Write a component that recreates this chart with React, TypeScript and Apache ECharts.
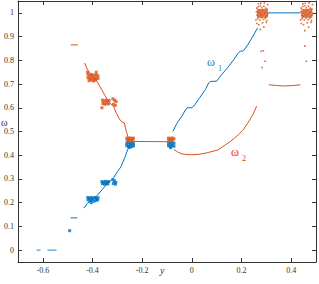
import React, { useEffect, useRef } from "react";
import * as echarts from "echarts";

const xTicks = [-0.6, -0.4, -0.2, 0, 0.2, 0.4];
const yTicks = [0, 0.1, 0.2, 0.3, 0.4, 0.5, 0.6, 0.7, 0.8, 0.9, 1];

// omega_1 (blue) continuous parts, null separates segments
const blueZero: (number[] | null)[] = [
  [-0.625, 0], [-0.609, 0], null,
  [-0.581, 0], [-0.545, 0],
];
const blueLine: (number[] | null)[] = [
  [-0.488, 0.136], [-0.461, 0.136], null,
  [-0.435, 0.177], [-0.42, 0.198], [-0.40, 0.213], [-0.38, 0.232], [-0.36, 0.256], [-0.345, 0.275],
  [-0.33, 0.29], [-0.315, 0.305], [-0.30, 0.33], [-0.285, 0.352], [-0.278, 0.37], [-0.268, 0.395],
  [-0.258, 0.425], [-0.25, 0.442], null,
  [-0.076, 0.501], [-0.06, 0.535], [-0.04, 0.565], [-0.025, 0.592], [-0.019, 0.6], [0.0, 0.6],
  [0.008, 0.607], [0.03, 0.64], [0.055, 0.677], [0.068, 0.705], [0.075, 0.711], [0.1, 0.712],
  [0.12, 0.74], [0.145, 0.77], [0.17, 0.805], [0.188, 0.832], [0.195, 0.838], [0.208, 0.84],
  [0.225, 0.865], [0.245, 0.9], [0.265, 0.937], null,
  [0.308, 1.0], [0.437, 1.0],
];
const blueClusters: number[][] = [
  [-0.492, 0.082],
  [-0.419, 0.222], [-0.412, 0.218], [-0.405, 0.222], [-0.398, 0.218], [-0.391, 0.222], [-0.384, 0.219], [-0.378, 0.221],
  [-0.418, 0.212], [-0.41, 0.208], [-0.402, 0.212], [-0.394, 0.206], [-0.386, 0.21], [-0.379, 0.212], [-0.405, 0.2],
  [-0.362, 0.289], [-0.355, 0.286], [-0.348, 0.29], [-0.341, 0.287], [-0.335, 0.289],
  [-0.36, 0.28], [-0.352, 0.278], [-0.345, 0.281], [-0.338, 0.279],
  [-0.318, 0.297], [-0.312, 0.292], [-0.306, 0.286], [-0.316, 0.281], [-0.308, 0.278],
  [-0.262, 0.45], [-0.255, 0.452], [-0.248, 0.449], [-0.241, 0.452], [-0.235, 0.449],
  [-0.262, 0.44], [-0.255, 0.437], [-0.248, 0.441], [-0.241, 0.437], [-0.235, 0.44], [-0.25, 0.432],
  [-0.094, 0.45], [-0.087, 0.452], [-0.08, 0.449], [-0.072, 0.451],
  [-0.094, 0.44], [-0.087, 0.437], [-0.08, 0.441], [-0.072, 0.438], [-0.085, 0.432],
];

// omega_2 (orange)
const orangeLine: (number[] | null)[] = [
  [-0.488, 0.865], [-0.459, 0.865], null,
  [-0.432, 0.789], [-0.42, 0.76], [-0.40, 0.733], [-0.38, 0.708], [-0.365, 0.68], [-0.35, 0.652],
  [-0.335, 0.625], [-0.315, 0.605], [-0.303, 0.575], [-0.292, 0.553], [-0.282, 0.54], [-0.272, 0.537],
  [-0.265, 0.505], [-0.255, 0.47], null,
  [-0.232, 0.458], [-0.095, 0.457], null,
  [-0.072, 0.424], [-0.055, 0.412], [-0.04, 0.406], [-0.025, 0.403], [0.0, 0.402], [0.03, 0.404],
  [0.06, 0.41], [0.09, 0.418], [0.105, 0.422], [0.13, 0.44], [0.155, 0.458], [0.172, 0.472],
  [0.188, 0.487], [0.205, 0.505], [0.225, 0.535], [0.245, 0.57], [0.261, 0.607], null,
  [0.31, 0.697], [0.34, 0.694], [0.37, 0.692], [0.4, 0.693], [0.437, 0.697],
];
const orangeClusters: number[][] = [
  [-0.418, 0.74], [-0.41, 0.736], [-0.402, 0.74], [-0.394, 0.735], [-0.386, 0.739], [-0.378, 0.735],
  [-0.418, 0.727], [-0.41, 0.723], [-0.402, 0.727], [-0.394, 0.722], [-0.386, 0.726], [-0.378, 0.723],
  [-0.414, 0.714], [-0.405, 0.717], [-0.396, 0.713], [-0.388, 0.716], [-0.42, 0.75], [-0.385, 0.75],
  [-0.36, 0.632], [-0.353, 0.628], [-0.346, 0.632], [-0.339, 0.628], [-0.333, 0.631],
  [-0.358, 0.618], [-0.35, 0.615], [-0.343, 0.619], [-0.336, 0.616], [-0.362, 0.6],
  [-0.318, 0.638], [-0.311, 0.632], [-0.305, 0.626], [-0.316, 0.615], [-0.308, 0.61],
  [-0.262, 0.472], [-0.255, 0.469], [-0.248, 0.473], [-0.241, 0.469], [-0.235, 0.472],
  [-0.26, 0.462], [-0.252, 0.461], [-0.244, 0.462], [-0.237, 0.46],
  [-0.094, 0.472], [-0.087, 0.469], [-0.08, 0.473], [-0.072, 0.47],
  [-0.093, 0.462], [-0.085, 0.461], [-0.077, 0.462],
];
// dense cores of the two noisy clusters near omega = 1
const orangeCores: number[][] = [
  [0.284, 0.998], [0.463, 0.998],
];
const orangeNoise: number[][] = [
  [0.262, 1.02], [0.268, 1.026], [0.275, 1.03], [0.282, 1.022], [0.29, 1.028], [0.297, 1.02], [0.303, 1.015],
  [0.26, 1.005], [0.266, 1.0], [0.272, 1.009], [0.279, 1.002], [0.286, 1.011], [0.293, 1.0], [0.3, 1.006], [0.306, 0.998],
  [0.263, 0.99], [0.27, 0.985], [0.277, 0.993], [0.284, 0.988], [0.291, 0.995], [0.298, 0.985], [0.304, 0.99],
  [0.265, 0.975], [0.274, 0.97], [0.281, 0.979], [0.289, 0.972], [0.296, 0.977], [0.302, 0.968],
  [0.262, 0.955], [0.27, 0.95], [0.285, 0.958], [0.3, 0.96], [0.278, 1.04], [0.292, 1.042],
  [0.268, 1.038], [0.306, 1.035], [0.258, 0.97], [0.29, 0.94], [0.276, 0.93], [0.279, 0.838], [0.295, 0.796],
  [0.288, 0.84], [0.283, 0.77],
  [0.44, 1.02], [0.447, 1.027], [0.454, 1.03], [0.461, 1.022], [0.469, 1.028], [0.476, 1.02], [0.483, 1.016],
  [0.439, 1.005], [0.445, 0.999], [0.452, 1.009], [0.459, 1.002], [0.466, 1.011], [0.473, 1.0], [0.48, 1.006], [0.487, 0.998],
  [0.442, 0.99], [0.449, 0.985], [0.456, 0.993], [0.463, 0.988], [0.47, 0.995], [0.477, 0.985], [0.484, 0.99],
  [0.444, 0.975], [0.453, 0.97], [0.46, 0.979], [0.468, 0.972], [0.475, 0.977], [0.482, 0.968],
  [0.441, 0.955], [0.45, 0.95], [0.465, 0.958], [0.48, 0.96], [0.457, 1.04], [0.472, 1.042],
  [0.447, 1.038], [0.486, 1.035], [0.438, 0.97], [0.47, 0.94], [0.455, 0.925], [0.455, 0.86], [0.461, 0.796],
];

export default function App() {
  const ref = useRef<HTMLDivElement>(null);
  useEffect(() => {
    document.body.style.margin = "0";
    const chart = echarts.init(ref.current!, null, { renderer: "svg" });
    const font = "Liberation Serif";
    const ink = "#333333";
    const axisCommon = {
      axisLine: { show: true, onZero: false, lineStyle: { color: ink, width: 1 } },
      splitLine: { show: false },
    };
    chart.setOption({
      animation: false,
      backgroundColor: "#ffffff",
      grid: { left: 18, right: 3, top: 1, bottom: 22 },
      xAxis: [
        {
          type: "value", min: -0.7, max: 0.5, ...axisCommon,
          axisTick: { inside: true, length: 4, customValues: xTicks, lineStyle: { color: ink } },
          axisLabel: { customValues: xTicks, fontFamily: font, fontSize: 8, color: ink, margin: 4,
            formatter: (v: number) => String(Math.round(v * 10) / 10) },
        },
        {
          type: "value", position: "top", min: -0.7, max: 0.5, ...axisCommon,
          axisTick: { inside: true, length: 4, customValues: xTicks, lineStyle: { color: ink } },
          axisLabel: { show: false },
        },
      ],
      yAxis: [
        {
          type: "value", min: -0.05, max: 1.05, ...axisCommon,
          axisTick: { inside: true, length: 4, customValues: yTicks, lineStyle: { color: ink } },
          axisLabel: { customValues: yTicks, fontFamily: font, fontSize: 8, color: ink, margin: 4,
            formatter: (v: number) => String(Math.round(v * 10) / 10) },
        },
        {
          type: "value", position: "right", min: -0.05, max: 1.05, ...axisCommon,
          axisTick: { inside: true, length: 4, customValues: yTicks, lineStyle: { color: ink } },
          axisLabel: { show: false },
        },
      ],
      series: [
        { type: "line", data: blueZero, symbol: "none", connectNulls: false,
          lineStyle: { color: "#4da3e0", width: 1.3 } },
        { type: "line", data: blueLine, symbol: "none", connectNulls: false,
          lineStyle: { color: "#0072BD", width: 1 } },
        { type: "line", data: orangeLine, symbol: "none", connectNulls: false,
          lineStyle: { color: "#D95319", width: 1 } },
        { type: "scatter", data: blueClusters, symbol: "rect", symbolSize: 3,
          itemStyle: { color: "#0072BD" } },
        { type: "scatter", data: orangeClusters, symbol: "rect", symbolSize: 3,
          itemStyle: { color: "#D95319" } },
        { type: "scatter", data: orangeCores, symbol: "rect", symbolSize: [11, 9],
          itemStyle: { color: "#D95319", opacity: 0.75 } },
        { type: "scatter", data: orangeNoise, symbol: "rect", symbolSize: 1.6,
          itemStyle: { color: "#D95319", opacity: 0.85 } },
      ],
      graphic: [
        { type: "text", left: 207, top: 56, style: { text: "ω", fontFamily: font, fontSize: 12, fill: "#1a7fc9" } },
        { type: "text", left: 218, top: 64, style: { text: "1", fontFamily: font, fontSize: 8, fill: "#1a7fc9" } },
        { type: "text", left: 231, top: 146, style: { text: "ω", fontFamily: font, fontSize: 12, fill: "#ee2a24" } },
        { type: "text", left: 242, top: 154, style: { text: "2", fontFamily: font, fontSize: 8, fill: "#ee2a24" } },
        { type: "text", left: 1, top: 117, style: { text: "ω", fontFamily: font, fontSize: 10, fill: ink } },
        { type: "text", left: 160, top: 265, style: { text: "y", fontFamily: font, fontSize: 10, fontStyle: "italic", fill: ink } },
      ],
    });
    return () => chart.dispose();
  }, []);
  return <div ref={ref} style={{ width: 319, height: 284 }} />;
}
